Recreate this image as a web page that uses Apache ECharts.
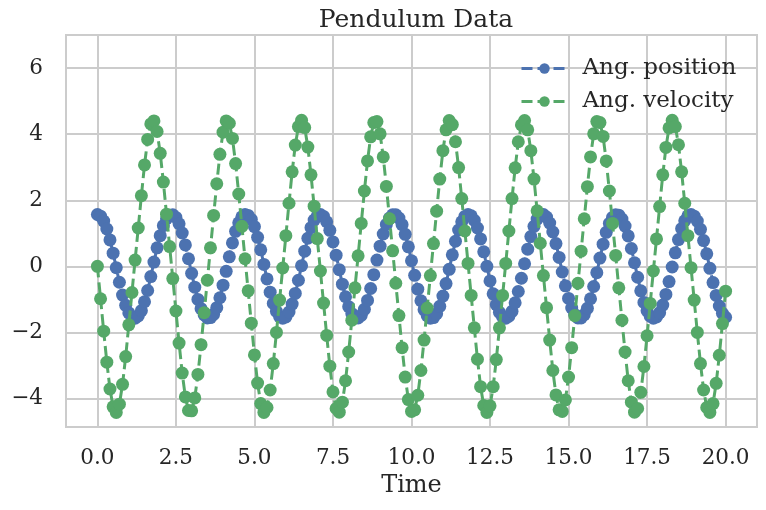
<!DOCTYPE html>
<html>
<head>
<meta charset="utf-8">
<script src="https://cdn.jsdelivr.net/npm/echarts@6/dist/echarts.min.js"></script>
<style>
html,body{margin:0;padding:0;background:#fff;}
#chart{width:766px;height:510px;}
</style>
</head>
<body>
<div id="chart"></div>
<script>
// Sample times (s)
const time = [0,0.1,0.2,0.3,0.4,0.5,0.6,0.7,0.8,0.9,1,1.1,1.2,1.3,1.4,1.5,1.6,1.7,1.8,1.9,2,2.1,2.2,2.3,2.4,2.5,2.6,2.7,2.8,2.9,3,3.1,3.2,3.3,3.4,3.5,3.6,3.7,3.8,3.9,4,4.1,4.2,4.3,4.4,4.5,4.6,4.7,4.8,4.9,5,5.1,5.2,5.3,5.4,5.5,5.6,5.7,5.8,5.9,6,6.1,6.2,6.3,6.4,6.5,6.6,6.7,6.8,6.9,7,7.1,7.2,7.3,7.4,7.5,7.6,7.7,7.8,7.9,8,8.1,8.2,8.3,8.4,8.5,8.6,8.7,8.8,8.9,9,9.1,9.2,9.3,9.4,9.5,9.6,9.7,9.8,9.9,10,10.1,10.2,10.3,10.4,10.5,10.6,10.7,10.8,10.9,11,11.1,11.2,11.3,11.4,11.5,11.6,11.7,11.8,11.9,12,12.1,12.2,12.3,12.4,12.5,12.6,12.7,12.8,12.9,13,13.1,13.2,13.3,13.4,13.5,13.6,13.7,13.8,13.9,14,14.1,14.2,14.3,14.4,14.5,14.6,14.7,14.8,14.9,15,15.1,15.2,15.3,15.4,15.5,15.6,15.7,15.8,15.9,16,16.1,16.2,16.3,16.4,16.5,16.6,16.7,16.8,16.9,17,17.1,17.2,17.3,17.4,17.5,17.6,17.7,17.8,17.9,18,18.1,18.2,18.3,18.4,18.5,18.6,18.7,18.8,18.9,19,19.1,19.2,19.3,19.4,19.5,19.6,19.7,19.8,19.9,20];

// Angular position (rad)
const angPosition = [1.57,1.52,1.37,1.13,0.80,0.40,-0.04,-0.48,-0.87,-1.18,-1.41,-1.54,-1.57,-1.50,-1.34,-1.07,-0.73,-0.31,0.13,0.56,0.93,1.23,1.44,1.55,1.56,1.48,1.29,1.01,0.65,0.23,-0.21,-0.63,-1.00,-1.28,-1.47,-1.56,-1.55,-1.45,-1.25,-0.95,-0.57,-0.15,0.29,0.71,1.06,1.32,1.50,1.57,1.54,1.42,1.20,0.88,0.50,0.06,-0.38,-0.78,-1.12,-1.36,-1.52,-1.57,-1.53,-1.38,-1.14,-0.82,-0.42,0.02,0.46,0.85,1.17,1.40,1.53,1.57,1.51,1.35,1.09,0.74,0.34,-0.10,-0.54,-0.92,-1.22,-1.43,-1.55,-1.56,-1.48,-1.30,-1.03,-0.67,-0.25,0.19,0.61,0.98,1.27,1.46,1.56,1.56,1.46,1.26,0.97,0.59,0.17,-0.27,-0.69,-1.04,-1.31,-1.49,-1.57,-1.55,-1.43,-1.21,-0.90,-0.52,-0.09,0.35,0.76,1.10,1.35,1.51,1.57,1.53,1.39,1.16,0.83,0.44,0.00,-0.44,-0.83,-1.16,-1.39,-1.53,-1.57,-1.51,-1.36,-1.10,-0.76,-0.36,0.08,0.52,0.90,1.21,1.43,1.55,1.57,1.49,1.31,1.04,0.69,0.27,-0.17,-0.59,-0.97,-1.26,-1.46,-1.56,-1.56,-1.46,-1.27,-0.98,-0.61,-0.19,0.25,0.67,1.03,1.30,1.48,1.56,1.55,1.43,1.22,0.92,0.54,0.11,-0.33,-0.74,-1.09,-1.34,-1.51,-1.57,-1.53,-1.40,-1.17,-0.85,-0.46,-0.02,0.41,0.81,1.14,1.38,1.53,1.57,1.52,1.37,1.12,0.78,0.38,-0.06,-0.49,-0.88,-1.20,-1.42,-1.54];

// Angular velocity (rad/s)
const angVelocity = [0.00,-0.98,-1.96,-2.90,-3.71,-4.25,-4.42,-4.17,-3.57,-2.73,-1.77,-0.79,0.19,1.16,2.14,3.07,3.84,4.31,4.40,4.08,3.42,2.55,1.58,0.60,-0.37,-1.35,-2.32,-3.23,-3.95,-4.36,-4.37,-3.98,-3.27,-2.37,-1.40,-0.42,0.56,1.54,2.50,3.39,4.06,4.40,4.33,3.87,3.11,2.19,1.21,0.23,-0.74,-1.72,-2.68,-3.53,-4.15,-4.42,-4.27,-3.74,-2.94,-2.00,-1.02,-0.05,0.93,1.91,2.86,3.67,4.23,4.42,4.20,3.61,2.77,1.82,0.84,-0.14,-1.11,-2.09,-3.02,-3.80,-4.30,-4.41,-4.11,-3.46,-2.59,-1.63,-0.65,0.32,1.30,2.28,3.19,3.92,4.35,4.38,4.01,3.31,2.42,1.44,0.47,-0.51,-1.49,-2.46,-3.35,-4.03,-4.39,-4.34,-3.90,-3.15,-2.23,-1.26,-0.28,0.69,1.67,2.64,3.50,4.13,4.41,4.29,3.77,2.99,2.05,1.07,0.09,-0.88,-1.86,-2.81,-3.64,-4.21,-4.42,-4.22,-3.64,-2.82,-1.86,-0.88,0.09,1.07,2.05,2.98,3.77,4.28,4.41,4.13,3.50,2.64,1.68,0.70,-0.28,-1.25,-2.23,-3.15,-3.89,-4.34,-4.39,-4.04,-3.35,-2.46,-1.49,-0.51,0.46,1.44,2.41,3.31,4.01,4.38,4.35,3.93,3.19,2.28,1.30,0.33,-0.65,-1.63,-2.59,-3.46,-4.11,-4.41,-4.30,-3.81,-3.03,-2.10,-1.12,-0.14,0.83,1.81,2.77,3.60,4.19,4.42,4.23,3.68,2.86,1.91,0.93,-0.04,-1.02,-2.00,-2.94,-3.74,-4.27,-4.42,-4.15,-3.54,-2.69,-1.73,-0.75];

const seriesNames = ['Ang. position', 'Ang. velocity'];
const xTickValues = [0, 2.5, 5, 7.5, 10, 12.5, 15, 17.5, 20];
const yTickValues = [-4, -2, 0, 2, 4, 6];

const FONT = '"DejaVu Serif", "Liberation Serif", serif';
const TXT = '#262626';
const GRIDC = '#cccccc';

function pairs(ys) { return time.map((t, i) => [t, ys[i]]); }
function fmtY(v) { return String(v).replace('-', '\u2212'); }

const chart = echarts.init(document.getElementById('chart'), null, {renderer: 'canvas'});
chart.setOption({
  animation: false,
  backgroundColor: '#ffffff',
  title: {
    text: 'Pendulum Data',
    left: 411, top: 3, textAlign: 'center',
    textStyle: {fontFamily: FONT, fontSize: 25, fontWeight: 'normal', color: TXT}
  },
  grid: {
    left: 66, right: 9, top: 35, bottom: 83,
    show: true, borderColor: GRIDC, borderWidth: 2, backgroundColor: 'transparent'
  },
  legend: {
    orient: 'vertical',
    left: 515, top: 52,
    itemWidth: 46, itemHeight: 13, itemGap: 10,
    data: seriesNames,
    lineStyle: {width: 3, type: [11, 5]},
    textStyle: {fontFamily: FONT, fontSize: 23, color: TXT, padding: [0, 0, 0, 10]}
  },
  xAxis: {
    type: 'value', min: -1, max: 21, minInterval: 2.5, maxInterval: 2.5,
    name: 'Time', nameLocation: 'middle', nameGap: 47,
    nameTextStyle: {fontFamily: FONT, fontSize: 24, color: TXT},
    axisLine: {show: false}, axisTick: {show: false},
    axisLabel: {
      showMinLabel: false, showMaxLabel: false, margin: 20,
      fontFamily: FONT, fontSize: 21.5, color: TXT,
      formatter: v => xTickValues.some(x => Math.abs(x - v) < 1e-6) ? v.toFixed(1) : ''
    },
    splitLine: {show: true, lineStyle: {color: GRIDC, width: 2}}
  },
  yAxis: {
    type: 'value', min: -4.86, max: 7, minInterval: 2, maxInterval: 2,
    axisLine: {show: false}, axisTick: {show: false},
    axisLabel: {
      showMinLabel: false, showMaxLabel: false, margin: 23,
      fontFamily: FONT, fontSize: 21.5, color: TXT,
      formatter: v => yTickValues.some(y => Math.abs(y - v) < 1e-6) ? fmtY(v) : ''
    },
    splitLine: {show: true, lineStyle: {color: GRIDC, width: 2}}
  },
  series: [
    {
      name: seriesNames[0], type: 'line', data: pairs(angPosition),
      symbol: 'circle', symbolSize: 13, showSymbol: true,
      itemStyle: {color: '#4C72B0'},
      lineStyle: {color: '#4C72B0', width: 3, type: [11, 5]},
      z: 2
    },
    {
      name: seriesNames[1], type: 'line', data: pairs(angVelocity),
      symbol: 'circle', symbolSize: 13, showSymbol: true,
      itemStyle: {color: '#55A868'},
      lineStyle: {color: '#55A868', width: 3, type: [11, 5]},
      z: 3
    }
  ]
});
</script>
</body>
</html>
